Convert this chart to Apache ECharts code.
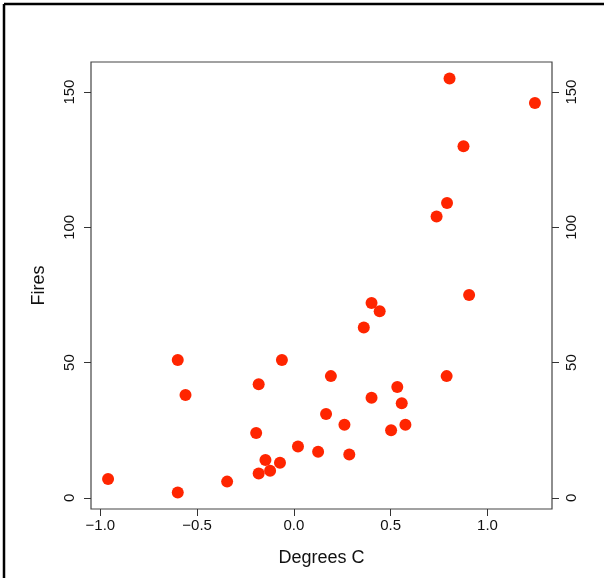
<!DOCTYPE html>
<html>
<head>
<meta charset="utf-8">
<script src="https://cdn.jsdelivr.net/npm/echarts@6/dist/echarts.min.js"></script>
<style>
  html, body { margin: 0; padding: 0; background: #fff; }
  #chart { width: 604px; height: 578px; }
</style>
</head>
<body>
<div id="chart"></div>
<script>
// temperature anomaly (degrees C) vs number of fires
const temps = [-0.96, -0.60, -0.60, -0.56, -0.345, -0.195, -0.182, -0.182, -0.147, -0.123,
  -0.072, -0.062, 0.021, 0.125, 0.166, 0.191, 0.261, 0.286, 0.361, 0.401,
  0.401, 0.443, 0.502, 0.534, 0.557, 0.576, 0.737, 0.789, 0.791, 0.804,
  0.876, 0.905, 1.245];
const fires = [7, 2, 51, 38, 6, 24, 42, 9, 14, 10,
  13, 51, 19, 17, 31, 45, 27, 16, 63, 72,
  37, 69, 25, 41, 35, 27, 104, 45, 109, 155,
  130, 75, 146];

const xTicks = [-1, -0.5, 0, 0.5, 1];
const xTickLabels = ['\u22121.0', '\u22120.5', '0.0', '0.5', '1.0'];
const yTicks = [0, 50, 100, 150];

const chart = echarts.init(document.getElementById('chart'));

// R style 4% padding around the data range
const xMin = Math.min(...temps), xMax = Math.max(...temps);
const yMin = Math.min(...fires), yMax = Math.max(...fires);
const xPad = (xMax - xMin) * 0.04, yPad = (yMax - yMin) * 0.04;

const font = 'Liberation Sans, Arial, sans-serif';
const axisCol = '#333';

const yAxisBase = {
  type: 'value',
  min: yMin - yPad,
  max: yMax + yPad,
  splitLine: { show: false },
  axisLine: { show: false, onZero: false },
  axisTick: { show: true, inside: false, length: 7, customValues: yTicks, lineStyle: { color: axisCol } },
  axisLabel: {
    customValues: yTicks, rotate: 90,
    color: '#111', fontSize: 15, fontFamily: font
  }
};

chart.setOption({
  animation: false,
  grid: {
    left: 91, top: 62, width: 461, height: 447,
    show: true, borderColor: '#444', borderWidth: 1.2, backgroundColor: '#fff'
  },
  graphic: [
    { type: 'line', shape: { x1: 4, y1: 4, x2: 604, y2: 4 }, style: { stroke: '#000', lineWidth: 2.5 } },
    { type: 'line', shape: { x1: 4, y1: 4, x2: 4, y2: 578 }, style: { stroke: '#000', lineWidth: 2.5 } }
  ],
  xAxis: {
    type: 'value',
    min: xMin - xPad,
    max: xMax + xPad,
    name: 'Degrees C',
    nameLocation: 'middle',
    nameGap: 40,
    nameTextStyle: { fontSize: 18, color: '#111', fontFamily: font },
    splitLine: { show: false },
    axisLine: { show: false, onZero: false },
    axisTick: { show: true, inside: false, length: 7, customValues: xTicks, lineStyle: { color: axisCol } },
    axisLabel: {
      customValues: xTicks, margin: 9,
      color: '#111', fontSize: 15, fontFamily: font,
      formatter: v => xTickLabels[xTicks.findIndex(t => Math.abs(t - v) < 1e-9)]
    }
  },
  yAxis: [
    Object.assign({}, yAxisBase, {
      position: 'left',
      name: 'Fires',
      nameLocation: 'middle',
      nameGap: 43,
      nameTextStyle: { fontSize: 18, color: '#111', fontFamily: font },
      axisLabel: Object.assign({}, yAxisBase.axisLabel, { margin: 14 })
    }),
    Object.assign({}, yAxisBase, {
      position: 'right',
      axisLabel: Object.assign({}, yAxisBase.axisLabel, { margin: 12 })
    })
  ],
  series: [{
    type: 'scatter',
    yAxisIndex: 0,
    symbol: 'circle',
    symbolSize: 12,
    itemStyle: { color: '#ff2500', opacity: 1 },
    data: temps.map((t, i) => [t, fires[i]])
  }]
});
</script>
</body>
</html>
